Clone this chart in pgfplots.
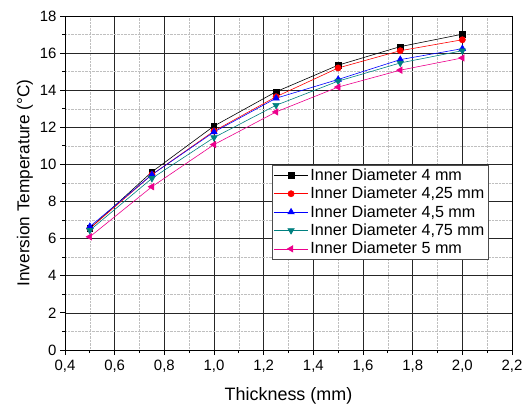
\documentclass[border=0pt]{standalone}
\usepackage{pgfplots}
\pgfplotsset{compat=1.18}
\usepackage{fontspec}
\setmainfont{Liberation Sans}
\definecolor{tealc}{RGB}{0,128,128}
\begin{document}
\begin{tikzpicture}[x=1bp,y=1bp]
\path[use as bounding box] (-65,-57) rectangle (457,334+16);
\begin{axis}[
  at={(0,0)}, anchor=south west,
  scale only axis, width=447bp, height=334bp,
  xmin=0.4, xmax=2.2, ymin=0, ymax=18,
  xtick={0.4,0.6,...,2.21}, ytick={0,2,...,18},
  minor x tick num=1, minor y tick num=1,
  grid=both,
  major grid style={solid, line width=0.7pt, draw=black!85},
  minor grid style={densely dotted, line width=0.4pt, draw=black!25},
  axis line style={line width=1pt},
  tick style={solid, line width=0.8pt, black},
  major tick length=5bp, minor tick length=3bp,
  tick align=outside,
  xtick pos=bottom, ytick pos=left,
  /pgf/number format/assume math mode=true,
  xticklabel style={yshift=-2bp, /pgf/number format/.cd, use comma, fixed, fixed zerofill, precision=1},
  ticklabel style={font=\fontsize{15}{16}\selectfont},
  xlabel={Thickness (mm)}, ylabel={Inversion Temperature (°C)},
  xlabel style={font=\fontsize{18}{19}\selectfont, yshift=-8bp},
  ylabel style={font=\fontsize{17.3}{18}\selectfont, yshift=0bp},
  legend style={at={(0.463,0.554)}, anchor=north west, font=\fontsize{16.2}{17}\selectfont,
    draw=black!70, line width=0.6pt, inner sep=1.5pt, row sep=1.2pt},
  legend cell align=left,
  legend image code/.code={\draw[mark repeat=2,mark phase=2] plot coordinates {(0bp,0bp) (17bp,0bp) (34bp,0bp)};},
  every axis plot/.append style={line width=0.6pt},
]
\addplot[black, mark=square*, mark size=2.8pt] coordinates {(0.5,6.55) (0.75,9.6) (1.0,12.07) (1.25,13.92) (1.5,15.35) (1.75,16.35) (2.0,17.02)};
\addlegendentry{Inner Diameter 4 mm}
\addplot[red, mark=*, mark size=3.1pt] coordinates {(0.5,6.55) (0.75,9.45) (1.0,11.8) (1.25,13.65) (1.5,15.2) (1.75,16.13) (2.0,16.72)};
\addlegendentry{Inner Diameter 4,25 mm}
\addplot[blue, mark=triangle*, mark size=3.7pt] coordinates {(0.5,6.65) (0.75,9.45) (1.0,11.75) (1.25,13.57) (1.5,14.58) (1.75,15.65) (2.0,16.24)};
\addlegendentry{Inner Diameter 4,5 mm}
\addplot[tealc, mark=triangle*, mark size=3.7pt, mark options={rotate=180}] coordinates {(0.5,6.45) (0.75,9.25) (1.0,11.45) (1.25,13.19) (1.5,14.49) (1.75,15.47) (2.0,16.13)};
\addlegendentry{Inner Diameter 4,75 mm}
\addplot[magenta, mark=triangle*, mark size=3.7pt, mark options={rotate=90}] coordinates {(0.5,6.1) (0.75,8.8) (1.0,11.07) (1.25,12.83) (1.5,14.17) (1.75,15.08) (2.0,15.74)};
\addlegendentry{Inner Diameter 5 mm}
\end{axis}
\end{tikzpicture}
\end{document}
